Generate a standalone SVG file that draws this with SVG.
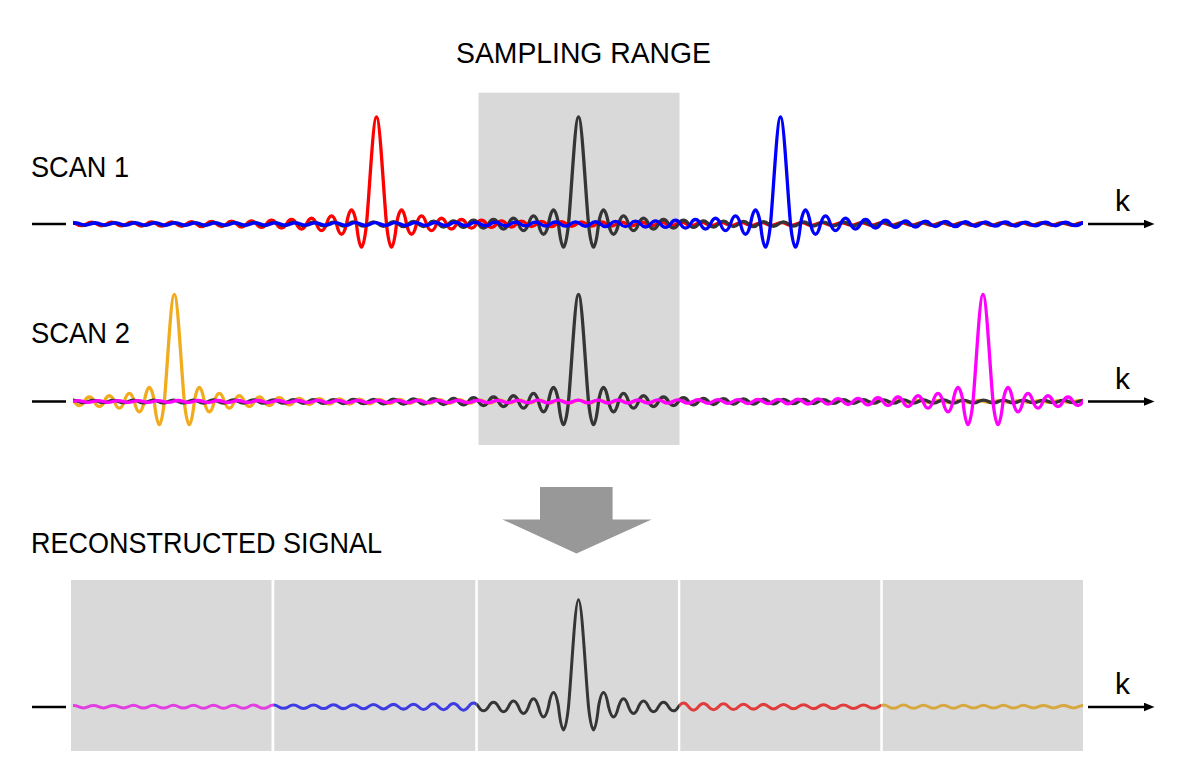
<svg xmlns="http://www.w3.org/2000/svg" xmlns:xlink="http://www.w3.org/1999/xlink" width="1177" height="771" viewBox="0 0 1177 771">
<style>
.t{font-family:"Liberation Sans",Arial,sans-serif;font-size:30px;fill:#000}
.c{fill:none;stroke-width:3.3;stroke-linecap:round;stroke-linejoin:round}
.cb{fill:none;stroke-width:3;stroke-linecap:round;stroke-linejoin:round}
.ax{stroke:#000;stroke-width:2.3;fill:none}
.panel{fill:#d9d9d9}
</style>
<defs>
<path id="tail" d="M10,0 Q15,46.4 20,0 Q25,-28.2 30,0 Q35,20.5 40,0 Q45,-16.1 50,0 Q55,13.4 60,0 Q65,-11.5 70,0 Q75,10.1 80,0 Q85,-9 90,0 Q95,8.2 100,0 Q105,-7.5 110,0 Q115,6.9 120,0 Q125,-6.4 130,0 Q135,6 140,0 Q145,-5.7 150,0 Q155,5.4 160,0 Q165,-5.1 170,0 Q175,4.9 180,0 Q185,-4.7 190,0 Q195,4.5 200,0 Q205,-4.3 210,0 Q215,4.2 220,0 Q225,-4 230,0 Q235,3.9 240,0 Q245,-3.8 250,0 Q255,3.7 260,0 Q265,-3.5 270,0 T280,0 T290,0 Q295,3.2 300,0 T310,0 T320,0 T330,0 Q335,3 340,0 T350,0 T360,0 T370,0 T380,0 Q385,-2.7 390,0 T400,0 T410,0 T420,0 T430,0 T440,0 T450,0 Q455,2.4 460,0 T470,0 T480,0 T490,0 T500,0 T510,0 T520,0 T530,0 T540,0 T550,0 Q555,2.15 560,0 T570,0 T580,0 T590,0 T600,0 T610,0 T620,0 T630,0 T640,0 T650,0 T660,0 T670,0 Q675,1.95 680,0 T690,0 T700,0 T710,0 T720,0 T730,0 T740,0 T750,0 T760,0 T770,0 T780,0 T790,0 T800,0 T810,0 Q815,1.8 820,0 T830,0 T840,0 T850,0 T860,0 T870,0 T880,0 T890,0 T900,0 T910,0 T920,0"/>
<g id="sinc">
<path d="M-10,0 C-7,-32.1 -3.43,-107 0,-107 C3.43,-107 7,-32.1 10,0"/>
<use href="#tail" xlink:href="#tail"/>
<use href="#tail" xlink:href="#tail" transform="scale(-1,1)"/>
</g>
<clipPath id="row"><rect x="73" y="0" width="1010" height="771"/></clipPath>
<clipPath id="s1"><rect x="73" y="0" width="200.3" height="771"/></clipPath>
<clipPath id="s2"><rect x="273.3" y="0" width="203.2" height="771"/></clipPath>
<clipPath id="s3"><rect x="476.5" y="0" width="202.5" height="771"/></clipPath>
<clipPath id="s4"><rect x="679" y="0" width="202.5" height="771"/></clipPath>
<clipPath id="s5"><rect x="881.5" y="0" width="201.5" height="771"/></clipPath>
<marker id="ah" markerUnits="userSpaceOnUse" markerWidth="12" markerHeight="10" refX="0.5" refY="4.5" orient="auto"><path d="M0,0 L11,4.5 L0,9 z" fill="#000"/></marker>
</defs>

<g id="sampling-range-box"><rect class="panel" x="478.5" y="92.7" width="201" height="352.3"/></g>

<g id="labels">
<text class="t" x="456" y="62.5" textLength="255" lengthAdjust="spacingAndGlyphs">SAMPLING RANGE</text>
<text class="t" x="31" y="176.7" textLength="98" lengthAdjust="spacingAndGlyphs">SCAN 1</text>
<text class="t" x="31" y="343.3" textLength="99" lengthAdjust="spacingAndGlyphs">SCAN 2</text>
<text class="t" x="31" y="553.3" textLength="351" lengthAdjust="spacingAndGlyphs">RECONSTRUCTED SIGNAL</text>
<text class="t" x="1115" y="210.5">k</text>
<text class="t" x="1115" y="388.5">k</text>
<text class="t" x="1115" y="693.5">k</text>
</g>

<g id="bottom-panels">
<rect class="panel" x="71" y="580" width="200.5" height="171"/>
<rect class="panel" x="274.3" y="580" width="201" height="171"/>
<rect class="panel" x="477.8" y="580" width="200.2" height="171"/>
<rect class="panel" x="680.3" y="580" width="200" height="171"/>
<rect class="panel" x="882.8" y="580" width="200.2" height="171"/>
</g>

<g id="connectors">
<line class="ax" x1="32" y1="224" x2="66" y2="224"/>
<line class="ax" x1="1088" y1="224" x2="1144" y2="224" marker-end="url(#ah)"/>
<line class="ax" x1="32" y1="401.5" x2="66" y2="401.5"/>
<line class="ax" x1="1088" y1="401.5" x2="1144" y2="401.5" marker-end="url(#ah)"/>
<line class="ax" x1="32" y1="707" x2="66" y2="707"/>
<line class="ax" x1="1088" y1="707" x2="1144" y2="707" marker-end="url(#ah)"/>
</g>

<g id="scan1" clip-path="url(#row)">
<use href="#sinc" xlink:href="#sinc" class="c" stroke="#ff0000" transform="translate(376.5,224)"/>
<use href="#sinc" xlink:href="#sinc" class="c" stroke="#353535" transform="translate(578.5,224)"/>
<use href="#sinc" xlink:href="#sinc" class="c" stroke="#0000ff" transform="translate(780.5,224)"/>
</g>

<g id="scan2" clip-path="url(#row)">
<use href="#sinc" xlink:href="#sinc" class="c" stroke="#f0ac1e" transform="translate(174.3,401.5)"/>
<use href="#sinc" xlink:href="#sinc" class="c" stroke="#353535" transform="translate(578.5,401.5)"/>
<use href="#sinc" xlink:href="#sinc" class="c" stroke="#ff00ff" transform="translate(983,401.5)"/>
</g>

<g id="arrow"><polygon points="540,487 612.6,487 612.6,519.5 651.6,519.5 576.5,553.5 502.3,519.5 540,519.5" fill="#989898"/></g>

<g id="reconstructed">
<g clip-path="url(#s1)"><use href="#sinc" xlink:href="#sinc" class="cb" stroke="#e23fe2" transform="translate(578.5,706.7)"/></g>
<g clip-path="url(#s2)"><use href="#sinc" xlink:href="#sinc" class="cb" stroke="#3c3ce2" transform="translate(578.5,706.7)"/></g>
<g clip-path="url(#s3)"><use href="#sinc" xlink:href="#sinc" class="cb" stroke="#353535" transform="translate(578.5,706.7)"/></g>
<g clip-path="url(#s4)"><use href="#sinc" xlink:href="#sinc" class="cb" stroke="#e03c3c" transform="translate(578.5,706.7)"/></g>
<g clip-path="url(#s5)"><use href="#sinc" xlink:href="#sinc" class="cb" stroke="#d8a840" transform="translate(578.5,706.7)"/></g>
</g>
</svg>
